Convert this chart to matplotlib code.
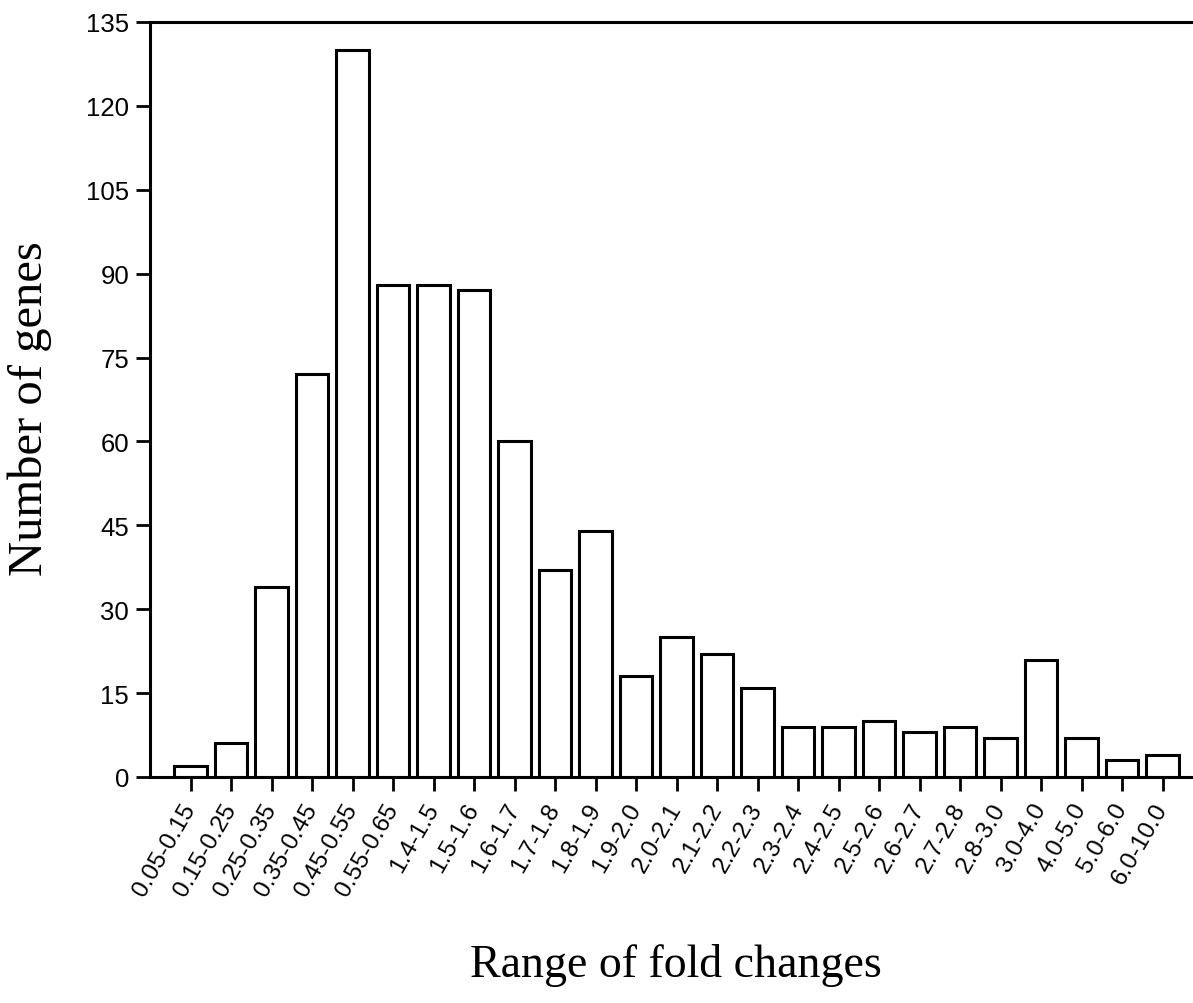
import matplotlib
matplotlib.use("Agg")
import matplotlib.pyplot as plt
from matplotlib.font_manager import FontProperties
import numpy as np

categories = ["0.05-0.15", "0.15-0.25", "0.25-0.35", "0.35-0.45", "0.45-0.55",
              "0.55-0.65", "1.4-1.5", "1.5-1.6", "1.6-1.7", "1.7-1.8", "1.8-1.9",
              "1.9-2.0", "2.0-2.1", "2.1-2.2", "2.2-2.3", "2.3-2.4", "2.4-2.5",
              "2.5-2.6", "2.6-2.7", "2.7-2.8", "2.8-3.0", "3.0-4.0", "4.0-5.0",
              "5.0-6.0", "6.0-10.0"]
counts = [2, 6, 34, 72, 130, 88, 88, 87, 60, 37, 44, 18, 25, 22, 16, 9, 9, 10,
          8, 9, 7, 21, 7, 3, 4]
yticks = [0, 15, 30, 45, 60, 75, 90, 105, 120, 135]

ytick_fp = FontProperties(family="Liberation Sans", size=18.5)
xtick_fp = FontProperties(family="Liberation Sans", size=17.5)

fig = plt.figure(figsize=(11.93, 10.04), dpi=100)
ax = fig.add_axes([150/1193, 1 - 778/1004, 1 - 150/1193, (778 - 23)/1004])

x = np.arange(len(categories))
ax.bar(x, counts, width=0.8, facecolor="white", edgecolor="black", linewidth=2.2)

ax.set_xlim(-1.0, 24.75)
ax.set_ylim(0, 135)
ax.set_yticks(yticks)
ax.set_yticklabels([str(v) for v in yticks], fontproperties=ytick_fp)
ax.set_xticks(x)
ax.set_xticklabels(categories, rotation=60, ha="right", va="center",
                   rotation_mode="anchor", fontproperties=xtick_fp)
ax.tick_params(axis="both", direction="out", length=10, width=2, pad=5)
ax.tick_params(axis="x", pad=10)

for s in ["left", "bottom", "top"]:
    ax.spines[s].set_linewidth(2.2)
ax.spines["right"].set_visible(False)

ax.set_ylabel("Number of genes", fontsize=35, family="Liberation Serif")
ax.yaxis.set_label_coords(-0.0935, 0.4887)
ax.set_xlabel("Range of fold changes", fontsize=33, family="Liberation Serif")
ax.xaxis.set_label_coords(0.504, -0.220)

fig.savefig("out.png", dpi=100)
